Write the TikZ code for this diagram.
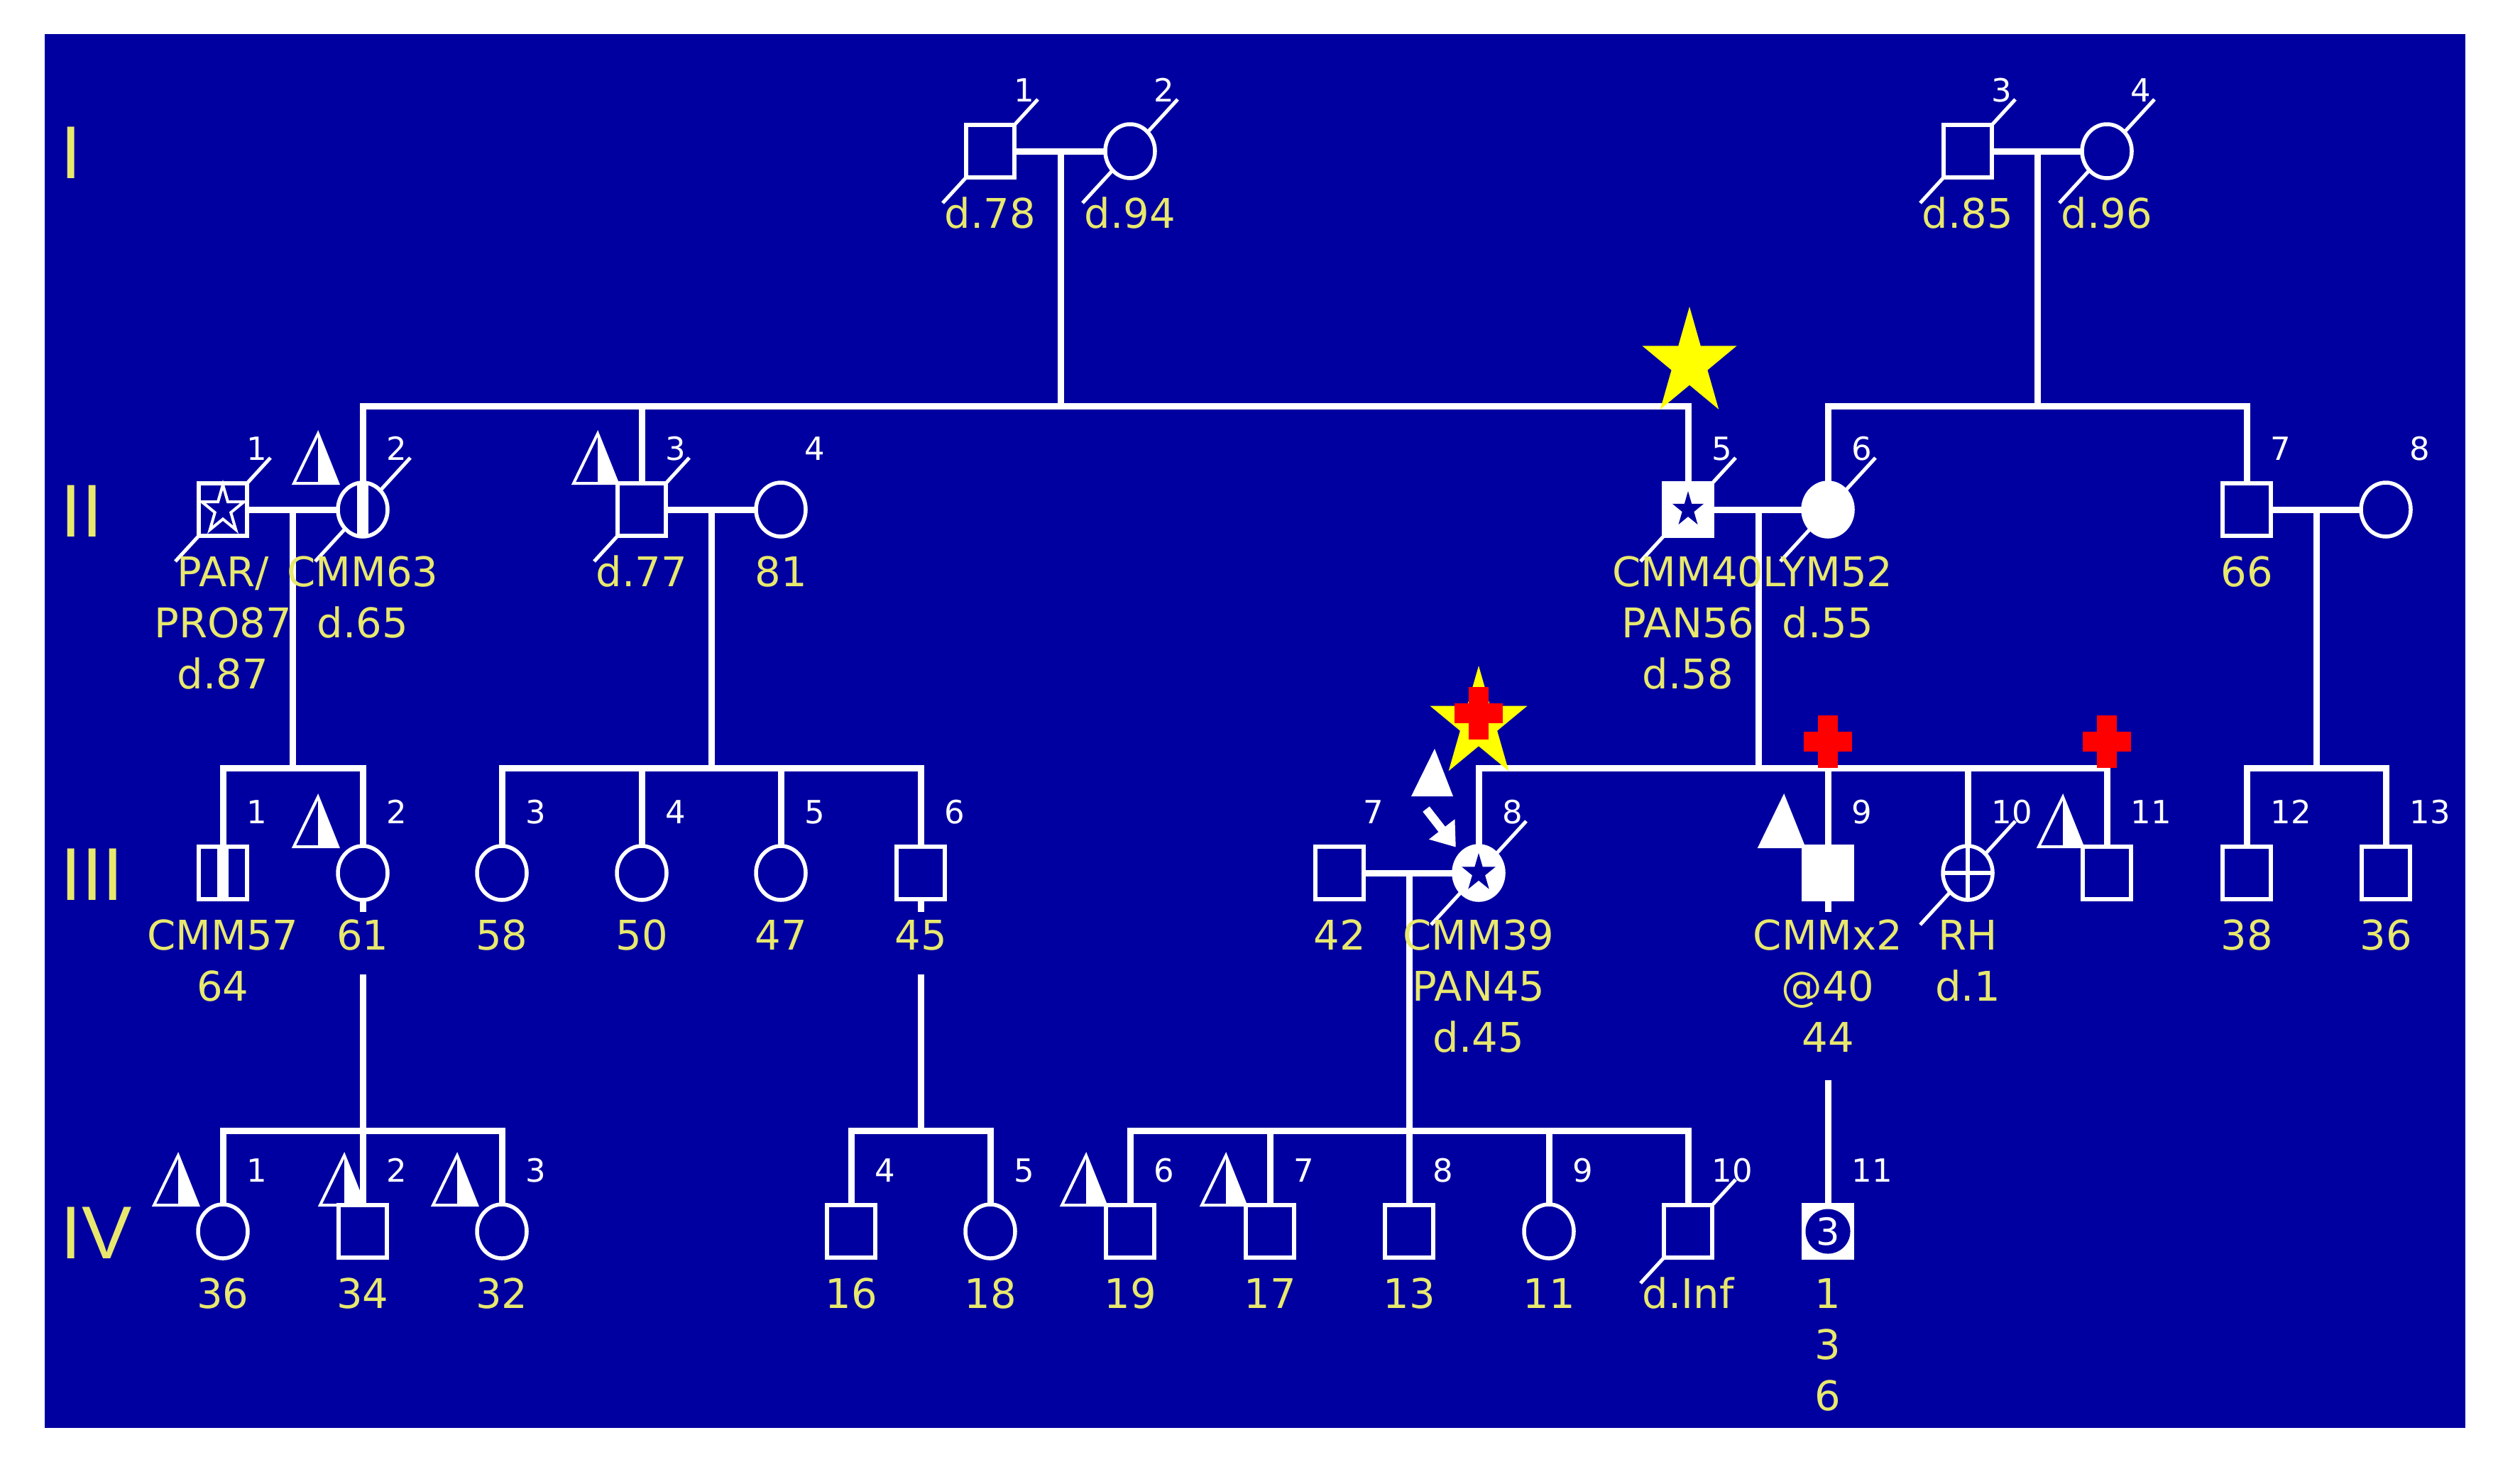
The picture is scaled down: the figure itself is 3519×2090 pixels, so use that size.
\documentclass[tikz,border=0pt]{standalone}
\usepackage{fontspec}
\setmainfont{DejaVu Sans}
\newfontfamily\pedlabfont{DejaVu Sans}
\newfontfamily\pedromfont{Liberation Sans}
\usetikzlibrary{shapes.geometric,arrows.meta,calc}
\pgfdeclarelayer{pedback}
\pgfsetlayers{pedback,main}
\definecolor{pedbg}{RGB}{0,0,160}
\definecolor{pedyel}{RGB}{232,232,110}
\definecolor{pedstarc}{RGB}{255,255,0}
\definecolor{pedred}{RGB}{255,0,0}
\tikzset{
  sym/.style={draw=white, line width=0.55mm, fill=pedbg, inner sep=0pt, outer sep=0pt},
  sq/.style={sym, rectangle, minimum width=6.8mm, minimum height=7.4mm},
  ci/.style={sym, ellipse, minimum width=7mm, minimum height=7.6mm},
  aff/.style={fill=white},
  conn/.style={draw=white, line width=0.9mm},
  slashln/.style={draw=white, line width=0.5mm},
  lab/.style={text=pedyel, font=\pedlabfont\fontsize{16.4pt}{16.4pt}\selectfont, inner sep=0pt, anchor=base},
  idl/.style={text=white, font=\pedlabfont\fontsize{12.8pt}{12.8pt}\selectfont, inner sep=0pt, anchor=base west},
  rom/.style={text=pedyel, font=\pedromfont\fontsize{30pt}{30pt}\selectfont, inner sep=0pt, anchor=base west},
}
\newcommand{\pedstar}[4]{\begin{scope}[shift={(#1)},xscale=#2,yscale=#3]\path[#4] (0,-1) -- (0.2245,-0.309) -- (0.951,-0.309) -- (0.363,0.118) -- (0.588,0.809) -- (0,0.382) -- (-0.588,0.809) -- (-0.363,0.118) -- (-0.951,-0.309) -- (-0.2245,-0.309) -- cycle;\end{scope}}
\newcommand{\peddead}[1]{\begin{pgfonlayer}{pedback}\draw[slashln] ($(#1)+(-67,73)$) -- ($(#1)+(67,-73)$);\end{pgfonlayer}}
\newcommand{\pedlab}[3]{\node[lab] (#1t#2) at ($(#1)+(0,{108+72*#2})$) {#3};}
\newcommand{\pedid}[2]{\node[idl] (#1n) at ($(#1)+(33,-70)$) {#2};}
\newcommand{\pedhalftri}[2]{\begin{scope}[shift={(#1)}]
  \fill[white] ({#2-28},-107) -- ({#2-28},-37) -- (#2,-37) -- cycle;
  \draw[white, line width=0.4mm, line join=miter] ({#2-62},-37) -- ({#2-28},-107) -- (#2,-37) -- cycle;
\end{scope}}
\newcommand{\pedfulltri}[2]{\begin{scope}[shift={(#1)}]
  \filldraw[white, line width=0.4mm, line join=miter] ({#2-62},-37) -- ({#2-28},-107) -- (#2,-37) -- cycle;
\end{scope}}
\newcommand{\pedcross}[1]{\begin{scope}[shift={(#1)}]
  \fill[pedred] (-14,-37) rectangle (14,37);
  \fill[pedred] (-34,-14) rectangle (34,14);
\end{scope}}

\begin{document}
\begin{tikzpicture}[x=0.1mm,y=-0.1mm]
\useasboundingbox (0,0) rectangle (3519,2090);
\begin{pgfonlayer}{pedback}
\fill[white] (0,0) rectangle (3519,2090);
\fill[pedbg] (63,48) rectangle (3473,2012);
\end{pgfonlayer}

% generation numerals
\node[rom] (gI) at (85,251) {I};
\node[rom] (gII) at (85,756) {II};
\node[rom] (gIII) at (85,1268) {III};
\node[rom] (gIV) at (85,1773) {IV};

% symbols
\node[sq] (I1) at (1395,213) {};
\node[ci] (I2) at (1592,213) {};
\node[sq] (I3) at (2772,213) {};
\node[ci] (I4) at (2968,213) {};

\node[sq] (II1) at (314,718) {};
\node[ci] (II2) at (511,718) {};
\node[sq] (II3) at (904,718) {};
\node[ci] (II4) at (1100,718) {};
\node[sq,aff] (II5) at (2378,718) {};
\node[ci,aff] (II6) at (2575,718) {};
\node[sq] (II7) at (3165,718) {};
\node[ci] (II8) at (3361,718) {};

\node[sq] (III1) at (314,1230) {};
\node[ci] (III2) at (511,1230) {};
\node[ci] (III3) at (707,1230) {};
\node[ci] (III4) at (904,1230) {};
\node[ci] (III5) at (1100,1230) {};
\node[sq] (III6) at (1297,1230) {};
\node[sq] (III7) at (1887,1230) {};
\node[ci,aff] (III8) at (2083,1230) {};
\node[sq,aff] (III9) at (2575,1230) {};
\node[ci] (III10) at (2772,1230) {};
\node[sq] (III11) at (2968,1230) {};
\node[sq] (III12) at (3165,1230) {};
\node[sq] (III13) at (3361,1230) {};

\node[ci] (IV1) at (314,1735) {};
\node[sq] (IV2) at (511,1735) {};
\node[ci] (IV3) at (707,1735) {};
\node[sq] (IV4) at (1199,1735) {};
\node[ci] (IV5) at (1395,1735) {};
\node[sq] (IV6) at (1592,1735) {};
\node[sq] (IV7) at (1789,1735) {};
\node[sq] (IV8) at (1985,1735) {};
\node[ci] (IV9) at (2182,1735) {};
\node[sq] (IV10) at (2378,1735) {};
\node[sq,aff] (IV11) at (2575,1735) {};

% deceased slashes
\peddead{I1}\peddead{I2}\peddead{I3}\peddead{I4}
\peddead{II1}\peddead{II2}\peddead{II3}\peddead{II5}\peddead{II6}
\peddead{III8}\peddead{III10}\peddead{IV10}

% connector points
\coordinate (m1) at (1494,213); \coordinate (s1) at (1494,572);
\coordinate (m2) at (2870,213); \coordinate (s2) at (2870,572);
\coordinate (m3) at (412,718);  \coordinate (s3) at (412,1082);
\coordinate (m4) at (1002,718); \coordinate (s4) at (1002,1082);
\coordinate (m5) at (2477,718); \coordinate (s5) at (2477,1082);
\coordinate (m6) at (3263,718); \coordinate (s6) at (3263,1082);
\coordinate (m7) at (1985,1230); \coordinate (s7) at (1985,1593);
\coordinate (s8) at (511,1593); \coordinate (s9) at (1297,1593);
\coordinate (t2) at (511,1285); \coordinate (r2) at (511,1373);
\coordinate (t6) at (1297,1285); \coordinate (r6) at (1297,1373);
\coordinate (t9) at (2575,1285); \coordinate (r9) at (2575,1522);

% generation I
\draw[conn] (I1.east) -- (I2.west);
\draw[conn] (I3.east) -- (I4.west);
\draw[conn] (m1) -- (s1);
\draw[conn] (m2) -- (s2);
\draw[conn] (II2.north) |- (s1) -| (II5.north);
\draw[conn] (II3.north) -- (II3.north |- s1);
\draw[conn] (II6.north) |- (s2) -| (II7.north);
% generation II
\draw[conn] (II1.east) -- (II2.west);
\draw[conn] (II3.east) -- (II4.west);
\draw[conn] (II5.east) -- (II6.west);
\draw[conn] (II7.east) -- (II8.west);
\draw[conn] (m3) -- (s3);
\draw[conn] (m4) -- (s4);
\draw[conn] (m5) -- (s5);
\draw[conn] (m6) -- (s6);
\draw[conn] (III1.north) |- (s3) -| (III2.north);
\draw[conn] (III3.north) |- (s4) -| (III6.north);
\draw[conn] (III4.north) -- (III4.north |- s4);
\draw[conn] (III5.north) -- (III5.north |- s4);
\draw[conn] (III8.north) |- (s5) -| (III11.north);
\draw[conn] (III9.north) -- (III9.north |- s5);
\draw[conn] (III10.north) -- (III10.north |- s5);
\draw[conn] (III12.north) |- (s6) -| (III13.north);
% generation III
\draw[conn] (III7.east) -- (III8.west);
\draw[conn] (m7) -- (s7);
\draw[conn] (IV6.north) |- (s7) -| (IV10.north);
\draw[conn] (IV7.north) -- (IV7.north |- s7);
\draw[conn] (IV8.north) -- (s7);
\draw[conn] (IV9.north) -- (IV9.north |- s7);
\draw[conn] (III2.south) -- (t2);
\draw[conn] (r2) -- (s8);
\draw[conn] (IV1.north) |- (s8) -| (IV3.north);
\draw[conn] (IV2.north) -- (s8);
\draw[conn] (III6.south) -- (t6);
\draw[conn] (r6) -- (s9);
\draw[conn] (IV4.north) |- (s9) -| (IV5.north);
\draw[conn] (III9.south) -- (t9);
\draw[conn] (r9) -- (IV11.north);

% symbol decorations
\pedstar{II1}{31}{35}{draw=white, line width=0.4mm, line join=miter}
\fill[white] ($(II2)+(-8,-37)$) rectangle ($(II2)+(8,37)$);
\fill[white] ($(III1)+(-8,-37)$) rectangle ($(III1)+(8,37)$);
\pedstar{II5}{23}{26}{fill=pedbg}
\pedstar{III8}{25}{28}{fill=pedbg}
\draw[white, line width=0.55mm] (III10.north) -- (III10.south) (III10.west) -- (III10.east);
\node[circle, fill=pedbg, minimum size=6.3mm, inner sep=0pt, text=white, font=\pedlabfont\fontsize{15pt}{15pt}\selectfont] (IV11c) at (IV11) {3};

% carrier triangles
\pedhalftri{II2}{-35}
\pedhalftri{II3}{-34}
\pedhalftri{III2}{-35}
\pedhalftri{III11}{-34}
\pedhalftri{IV1}{-35}
\pedhalftri{IV2}{2}
\pedhalftri{IV3}{-35}
\pedhalftri{IV6}{-34}
\pedhalftri{IV7}{-34}
\pedfulltri{III9}{-34}
\begin{scope}[shift={(III8)}]
\fill[white] (-95,-108) -- (-62,-175) -- (-36,-108) -- cycle;
\end{scope}
\coordinate (a8) at ($(III8)+(-74,-90)$);
\draw[white, line width=1.2mm, shorten >=1.2mm, -{Triangle[length=3.2mm,width=4.4mm]}] (a8) -- (III8.north west);

% stars and crosses
\coordinate (bigstar) at (2380,512);
\pedstar{bigstar}{70}{80}{fill=pedstarc}
\coordinate (st8) at (2083,1020);
\pedstar{st8}{72}{82}{fill=pedstarc}
\coordinate (x8) at (2083,1005);
\coordinate (x9) at (2575,1045);
\coordinate (x11) at (2968,1045);
\pedcross{x8}\pedcross{x9}\pedcross{x11}

% individual numbers
\pedid{I1}{1}\pedid{I2}{2}\pedid{I3}{3}\pedid{I4}{4}
\pedid{II1}{1}\pedid{II2}{2}\pedid{II3}{3}\pedid{II4}{4}
\pedid{II5}{5}\pedid{II6}{6}\pedid{II7}{7}\pedid{II8}{8}
\pedid{III1}{1}\pedid{III2}{2}\pedid{III3}{3}\pedid{III4}{4}
\pedid{III5}{5}\pedid{III6}{6}\pedid{III7}{7}\pedid{III8}{8}
\pedid{III9}{9}\pedid{III10}{10}\pedid{III11}{11}\pedid{III12}{12}\pedid{III13}{13}
\pedid{IV1}{1}\pedid{IV2}{2}\pedid{IV3}{3}\pedid{IV4}{4}
\pedid{IV5}{5}\pedid{IV6}{6}\pedid{IV7}{7}\pedid{IV8}{8}
\pedid{IV9}{9}\pedid{IV10}{10}\pedid{IV11}{11}

% labels
\pedlab{I1}{0}{d.78}\pedlab{I2}{0}{d.94}\pedlab{I3}{0}{d.85}\pedlab{I4}{0}{d.96}
\pedlab{II1}{0}{PAR/}\pedlab{II1}{1}{PRO87}\pedlab{II1}{2}{d.87}
\pedlab{II2}{0}{CMM63}\pedlab{II2}{1}{d.65}
\pedlab{II3}{0}{d.77}
\pedlab{II4}{0}{81}
\pedlab{II5}{0}{CMM40}\pedlab{II5}{1}{PAN56}\pedlab{II5}{2}{d.58}
\pedlab{II6}{0}{LYM52}\pedlab{II6}{1}{d.55}
\pedlab{II7}{0}{66}
\pedlab{III1}{0}{CMM57}\pedlab{III1}{1}{64}
\pedlab{III2}{0}{61}
\pedlab{III3}{0}{58}\pedlab{III4}{0}{50}\pedlab{III5}{0}{47}\pedlab{III6}{0}{45}
\pedlab{III7}{0}{42}
\pedlab{III8}{0}{CMM39}\pedlab{III8}{1}{PAN45}\pedlab{III8}{2}{d.45}
\pedlab{III9}{0}{CMMx2}\pedlab{III9}{1}{@40}\pedlab{III9}{2}{44}
\pedlab{III10}{0}{RH}\pedlab{III10}{1}{d.1}
\pedlab{III12}{0}{38}\pedlab{III13}{0}{36}
\pedlab{IV1}{0}{36}\pedlab{IV2}{0}{34}\pedlab{IV3}{0}{32}
\pedlab{IV4}{0}{16}\pedlab{IV5}{0}{18}
\pedlab{IV6}{0}{19}\pedlab{IV7}{0}{17}\pedlab{IV8}{0}{13}\pedlab{IV9}{0}{11}
\pedlab{IV10}{0}{d.Inf}
\pedlab{IV11}{0}{1}\pedlab{IV11}{1}{3}\pedlab{IV11}{2}{6}
\end{tikzpicture}
\end{document}
